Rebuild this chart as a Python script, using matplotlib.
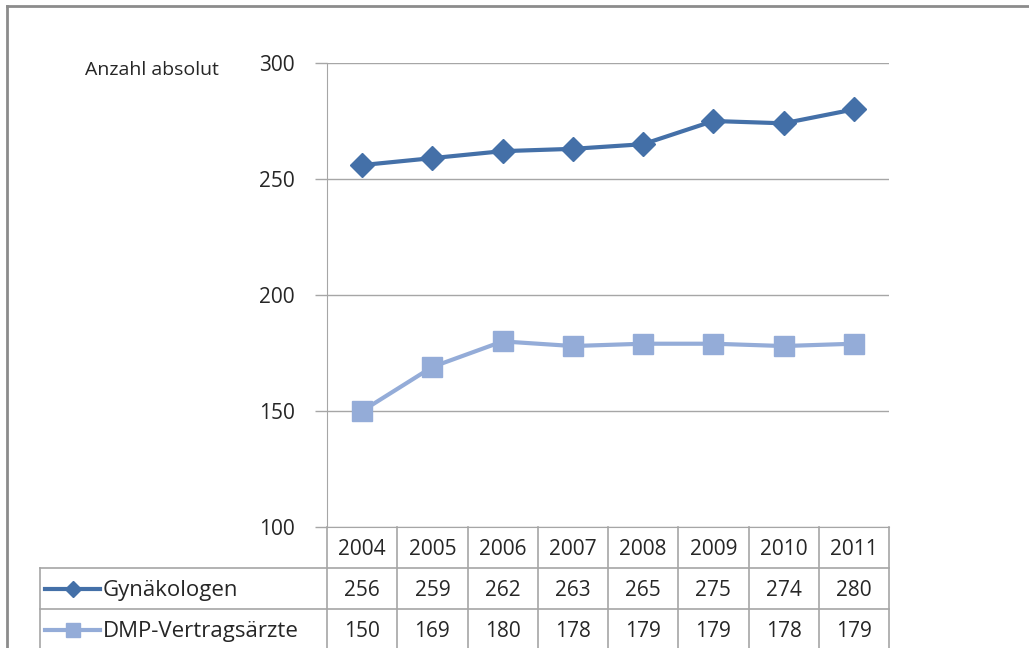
import matplotlib.pyplot as plt
from matplotlib.lines import Line2D

plt.rcParams["font.family"] = ["Open Sans", "DejaVu Sans"]

years = ["2004", "2005", "2006", "2007", "2008", "2009", "2010", "2011"]
gynaekologen = [256, 259, 262, 263, 265, 275, 274, 280]
dmp_aerzte = [150, 169, 180, 178, 179, 179, 178, 179]
series_names = ["Gynäkologen", "DMP-Vertragsärzte"]
y_ticks = [100, 150, 200, 250, 300]

dark_blue = "#4470a8"
light_blue = "#94acd8"
grid_grey = "#a6a6a6"
text_col = "#262626"
W, H = 1029, 648

fig = plt.figure(figsize=(W / 100, H / 100), dpi=100)

# main plot area (pixel positions from the reference)
left, right, top, bottom = 327, 889, 63, 527
ax = fig.add_axes([left / W, 1 - bottom / H, (right - left) / W, (bottom - top) / H])
x = list(range(len(years)))
ax.plot(x, gynaekologen, color=dark_blue, lw=3, marker="D", ms=12,
        mec=dark_blue, mfc=dark_blue, zorder=3)
ax.plot(x, dmp_aerzte, color=light_blue, lw=3, marker="s", ms=14,
        mec=light_blue, mfc=light_blue, zorder=3)
ax.set_xlim(-0.5, len(years) - 0.5)
ax.set_ylim(100, 300)
ax.set_yticks(y_ticks)
ax.set_xticks([])
ax.tick_params(axis="y", length=9, width=1, color=grid_grey, labelsize=15,
               pad=14, labelcolor=text_col)
ax.grid(axis="y", color=grid_grey, lw=1)
ax.set_axisbelow(True)
for s in ["top", "right"]:
    ax.spines[s].set_visible(False)
ax.spines["left"].set_color(grid_grey)
ax.spines["bottom"].set_color(grid_grey)
fig.text(85 / W, 1 - 70 / H, "Anzahl absolut", fontsize=14, va="center",
         ha="left", color=text_col)

# data table below the plot
col_w = (right - left) / len(years)
row_h = 41
tleft = 40
tax = fig.add_axes([tleft / W, 0, (right - tleft) / W, (H - bottom) / H])
tax.set_xlim(-0.5 - (left - tleft) / col_w, len(years) - 0.5)
tax.set_ylim((H - bottom) / row_h, 0)
tax.axis("off")
xl = tax.get_xlim()[0]
line_kw = dict(color=grid_grey, lw=1.2, clip_on=False)
for i in range(len(years) + 1):
    tax.plot([i - 0.5, i - 0.5], [0, 3], **line_kw)
tax.plot([xl, xl], [1, 3], **line_kw)
for r in [1, 2, 3]:
    tax.plot([xl, len(years) - 0.5], [r, r], **line_kw)

for i, yr in enumerate(years):
    tax.text(i, 0.55, yr, ha="center", va="center", fontsize=15, color=text_col)
rows = [gynaekologen, dmp_aerzte]
styles = [(dark_blue, "D", 8), (light_blue, "s", 10)]
for r, (vals, name, (c, m, ms)) in enumerate(zip(rows, series_names, styles)):
    yc = r + 1.55
    for i, v in enumerate(vals):
        tax.text(i, yc, str(v), ha="center", va="center", fontsize=15, color=text_col)
    x0 = xl + 5 / col_w
    x1 = xl + 60 / col_w
    tax.plot([x0, x1], [yc - 0.05, yc - 0.05], color=c, lw=3, clip_on=False)
    tax.plot([(x0 + x1) / 2], [yc - 0.05], marker=m, ms=ms, color=c, clip_on=False)
    tax.text(xl + 63 / col_w, yc, name, ha="left", va="center", fontsize=16,
             color=text_col)

# outer frame, cut off at right and bottom like the reference
fig.add_artist(Line2D([7 / W, 1], [1 - 6 / H, 1 - 6 / H], color="#8c8c8c", lw=2))
fig.add_artist(Line2D([7 / W, 7 / W], [0, 1 - 6 / H], color="#8c8c8c", lw=2))

fig.savefig("out.png", dpi=100)
